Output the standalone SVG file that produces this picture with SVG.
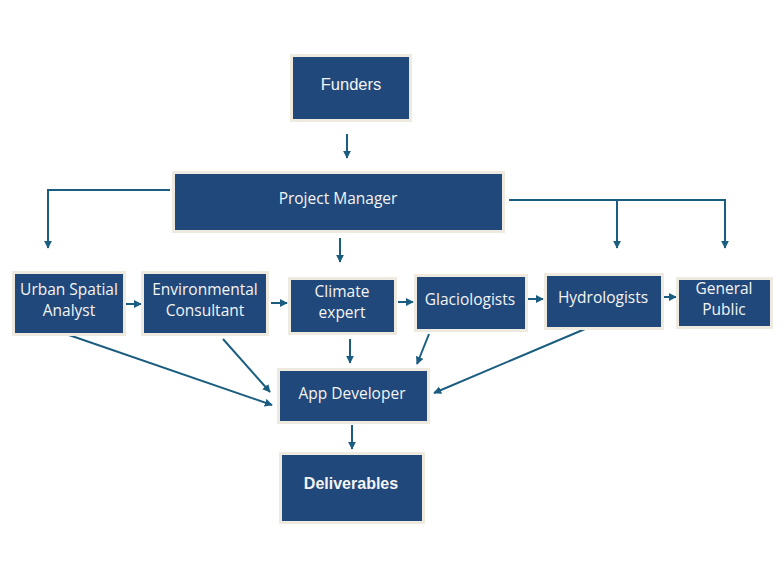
<svg xmlns="http://www.w3.org/2000/svg" width="784" height="583" viewBox="0 0 784 583">
<defs>
<marker id="ah" viewBox="0 0 10 10" refX="9" refY="5" markerWidth="4" markerHeight="4" orient="auto" markerUnits="strokeWidth">
<path d="M0,0 L10,5 L0,10 z" fill="#1B5D80"/>
</marker>
<style>
.box{fill:#21487A;stroke:#EEEAE0;stroke-width:3}
.t{font-family:"Open Sans","Noto Sans",sans-serif;font-size:15.5px;fill:#F4F4F4;text-anchor:middle}
.a{font-family:"Liberation Sans",Arial,sans-serif;font-size:16.5px;fill:#F4F4F4;text-anchor:middle}
.b{font-family:"Liberation Sans",Arial,sans-serif;font-size:16px;font-weight:bold;fill:#F4F4F4;text-anchor:middle}
.c{fill:none;stroke:#1B5D80;stroke-width:2}
.ca{fill:none;stroke:#1B5D80;stroke-width:2;marker-end:url(#ah)}
</style>
</defs>
<rect width="784" height="583" fill="#FFFFFF"/>
<g id="connectors">
<line class="ca" x1="347" y1="134" x2="347" y2="158"/>
<polyline class="ca" points="170,190 48,190 48,248"/>
<line class="ca" x1="340" y1="238" x2="340" y2="262"/>
<polyline class="c" points="509,200 725,200 725,236"/>
<line class="ca" x1="725" y1="230" x2="725" y2="248"/>
<line class="ca" x1="617" y1="200" x2="617" y2="248"/>
<line class="ca" x1="125" y1="304" x2="141" y2="304"/>
<line class="ca" x1="271" y1="303" x2="287" y2="303"/>
<line class="ca" x1="398" y1="302" x2="413" y2="302"/>
<line class="ca" x1="527" y1="299" x2="543" y2="299"/>
<line class="ca" x1="664" y1="297" x2="676" y2="297"/>
<line class="ca" x1="66" y1="334" x2="272" y2="405"/>
<line class="ca" x1="223" y1="339" x2="270" y2="392"/>
<line class="ca" x1="350" y1="339" x2="350" y2="363"/>
<line class="ca" x1="429" y1="334" x2="417" y2="364"/>
<line class="ca" x1="585" y1="329" x2="434" y2="393"/>
<line class="ca" x1="352" y1="425" x2="352" y2="449"/>
</g>
<g id="funders"><rect class="box" x="291.5" y="55.5" width="119" height="65"/><text class="a" x="351" y="90">Funders</text></g>
<g id="project-manager"><rect class="box" x="173.5" y="172.5" width="330" height="59"/><text class="t" x="338" y="204">Project Manager</text></g>
<g id="urban"><rect class="box" x="13.5" y="272.5" width="111" height="62"/><text class="t" x="69" y="295">Urban Spatial</text><text class="t" x="69" y="316">Analyst</text></g>
<g id="environmental"><rect class="box" x="142.5" y="272.5" width="125" height="62"/><text class="t" x="205" y="295">Environmental</text><text class="t" x="205" y="316">Consultant</text></g>
<g id="climate"><rect class="box" x="289.5" y="278.5" width="106" height="55"/><text class="t" x="342" y="297">Climate</text><text class="t" x="342" y="318">expert</text></g>
<g id="glaciologists"><rect class="box" x="415.5" y="275.5" width="111" height="55"/><text class="t" x="470" y="305">Glaciologists</text></g>
<g id="hydrologists"><rect class="box" x="545.5" y="274.5" width="117" height="54"/><text class="t" x="603" y="303">Hydrologists</text></g>
<g id="general-public"><rect class="box" x="677.5" y="278.5" width="94" height="49"/><text class="t" x="724" y="294">General</text><text class="t" x="724" y="315">Public</text></g>
<g id="app-developer"><rect class="box" x="278.5" y="369.5" width="150" height="53"/><text class="t" x="352" y="399">App Developer</text></g>
<g id="deliverables"><rect class="box" x="280.5" y="453.5" width="143" height="69"/><text class="b" x="351" y="489">Deliverables</text></g>
</svg>
